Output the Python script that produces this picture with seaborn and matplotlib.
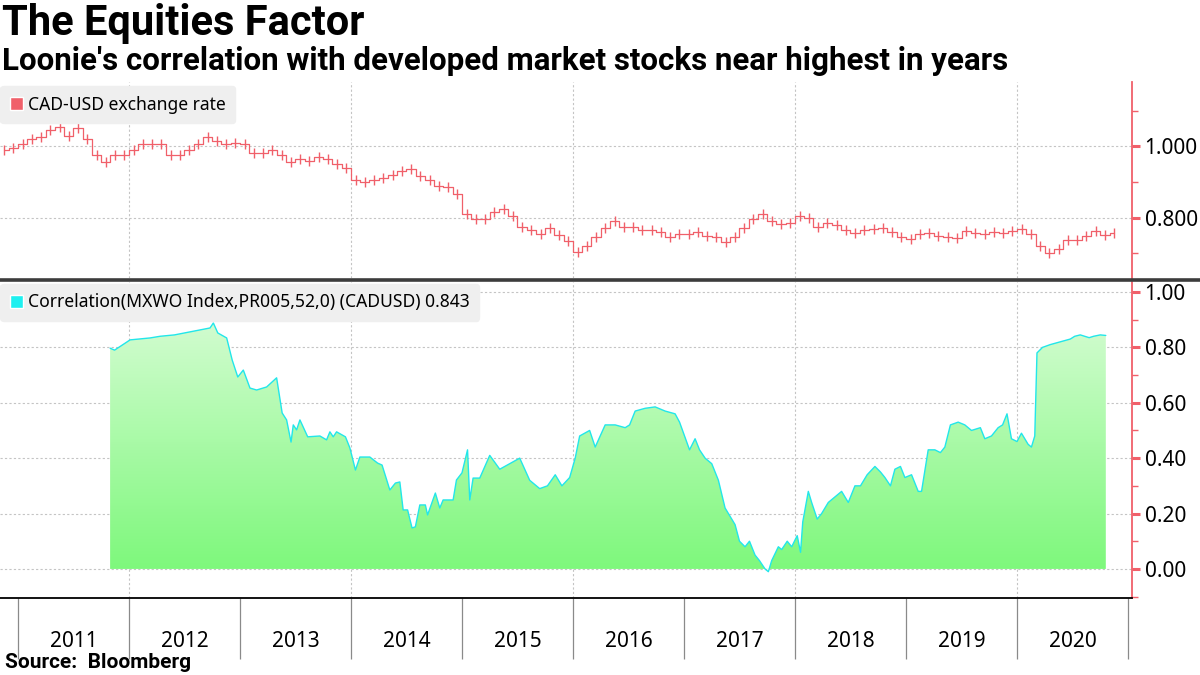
import numpy as np
import matplotlib.pyplot as plt
import matplotlib.ticker as mticker
from matplotlib.lines import Line2D
from matplotlib.patches import Patch
from matplotlib.colors import LinearSegmentedColormap
import seaborn as sns

# CAD-USD monthly closes, Nov 2010 .. Nov 2020
cad_start = 2010.875
cad_rate = [
    0.990, 0.995,
    1.005, 1.020, 1.025, 1.045, 1.055, 1.030, 1.050, 1.020, 0.975, 0.955, 0.975, 0.975,
    0.990, 1.005, 1.005, 1.005, 0.975, 0.975, 0.990, 1.005, 1.025, 1.015, 1.005, 1.010,
    1.005, 0.980, 0.980, 0.990, 0.975, 0.955, 0.965, 0.960, 0.970, 0.965, 0.950, 0.940,
    0.905, 0.900, 0.905, 0.910, 0.920, 0.930, 0.935, 0.918, 0.905, 0.890, 0.885, 0.865,
    0.810, 0.795, 0.795, 0.815, 0.825, 0.805, 0.775, 0.765, 0.755, 0.770, 0.752, 0.735,
    0.705, 0.720, 0.745, 0.770, 0.790, 0.775, 0.775, 0.765, 0.765, 0.760, 0.745, 0.755,
    0.755, 0.760, 0.750, 0.745, 0.732, 0.745, 0.770, 0.795, 0.810, 0.790, 0.783, 0.785,
    0.805, 0.800, 0.775, 0.785, 0.780, 0.765, 0.758, 0.765, 0.768, 0.772, 0.760, 0.745,
    0.740, 0.755, 0.757, 0.750, 0.745, 0.742, 0.762, 0.757, 0.755, 0.760, 0.757, 0.762,
    0.768, 0.755, 0.720, 0.700, 0.712, 0.738, 0.738, 0.748, 0.762, 0.752, 0.758,
]
cad_time = cad_start + np.arange(len(cad_rate)) / 12

# 52-week correlation of MXWO with CADUSD (decimal years)
corr_time = [
    2011.83, 2011.87, 2012.01, 2012.19, 2012.28, 2012.41, 2012.50, 2012.64, 2012.73, 2012.76,
    2012.80, 2012.88, 2012.93, 2012.98, 2013.03, 2013.09, 2013.15, 2013.24, 2013.33, 2013.38,
    2013.42, 2013.46, 2013.48, 2013.51, 2013.54, 2013.61, 2013.72, 2013.78, 2013.81, 2013.84,
    2013.87, 2013.95, 2013.99, 2014.04, 2014.08, 2014.17, 2014.24, 2014.28, 2014.35, 2014.40,
    2014.44, 2014.47, 2014.51, 2014.55, 2014.58, 2014.62, 2014.67, 2014.69, 2014.76, 2014.80,
    2014.83, 2014.92, 2014.95, 2015.00, 2015.05, 2015.07, 2015.10, 2015.16, 2015.25, 2015.34,
    2015.43, 2015.52, 2015.61, 2015.70, 2015.77, 2015.84, 2015.90, 2015.97, 2016.02, 2016.06,
    2016.15, 2016.20, 2016.29, 2016.38, 2016.47, 2016.51, 2016.56, 2016.65, 2016.74, 2016.83,
    2016.92, 2016.96, 2017.05, 2017.10, 2017.14, 2017.19, 2017.25, 2017.31, 2017.37, 2017.46,
    2017.50, 2017.55, 2017.59, 2017.64, 2017.68, 2017.73, 2017.76, 2017.79, 2017.85, 2017.88,
    2017.93, 2017.97, 2018.02, 2018.05, 2018.07, 2018.12, 2018.15, 2018.20, 2018.24, 2018.30,
    2018.36, 2018.42, 2018.48, 2018.54, 2018.59, 2018.65, 2018.72, 2018.77, 2018.81, 2018.86,
    2018.90, 2018.95, 2018.99, 2019.05, 2019.11, 2019.14, 2019.20, 2019.26, 2019.31, 2019.35,
    2019.40, 2019.47, 2019.53, 2019.59, 2019.67, 2019.71, 2019.77, 2019.83, 2019.87, 2019.91,
    2019.95, 2020.00, 2020.04, 2020.10, 2020.13, 2020.16, 2020.18, 2020.23, 2020.30, 2020.39,
    2020.48, 2020.52, 2020.57, 2020.61, 2020.65, 2020.69, 2020.75, 2020.80,
]
corr_value = [
    0.797, 0.790, 0.827, 0.834, 0.840, 0.845, 0.852, 0.863, 0.870, 0.888,
    0.852, 0.834, 0.754, 0.693, 0.718, 0.653, 0.646, 0.657, 0.690, 0.563,
    0.538, 0.458, 0.520, 0.502, 0.538, 0.477, 0.480, 0.466, 0.495, 0.477,
    0.495, 0.477, 0.437, 0.357, 0.404, 0.404, 0.382, 0.375, 0.285, 0.310,
    0.314, 0.213, 0.213, 0.148, 0.152, 0.231, 0.231, 0.195, 0.274, 0.220,
    0.249, 0.249, 0.321, 0.347, 0.430, 0.249, 0.328, 0.328, 0.410, 0.360,
    0.380, 0.400, 0.320, 0.290, 0.300, 0.340, 0.300, 0.330, 0.400, 0.480,
    0.500, 0.440, 0.520, 0.520, 0.510, 0.520, 0.570, 0.580, 0.585, 0.570,
    0.560, 0.530, 0.430, 0.470, 0.430, 0.400, 0.380, 0.320, 0.220, 0.160,
    0.100, 0.080, 0.100, 0.050, 0.030, 0.000, -0.010, 0.030, 0.080, 0.070,
    0.100, 0.080, 0.120, 0.060, 0.170, 0.280, 0.240, 0.180, 0.200, 0.240,
    0.260, 0.280, 0.240, 0.300, 0.300, 0.340, 0.370, 0.350, 0.330, 0.300,
    0.360, 0.370, 0.330, 0.340, 0.280, 0.280, 0.430, 0.430, 0.420, 0.440,
    0.520, 0.530, 0.520, 0.500, 0.510, 0.470, 0.480, 0.510, 0.520, 0.560,
    0.470, 0.460, 0.490, 0.450, 0.440, 0.480, 0.780, 0.800, 0.810, 0.820,
    0.830, 0.840, 0.845, 0.840, 0.835, 0.840, 0.845, 0.843,
]

years = list(range(2011, 2021))
grid_years = [2012, 2014, 2016, 2018, 2020]

RED = "#f0606a"
CYAN = "#22e6ea"
GRID = "#c4c4c4"
BOLD_FONT = ["Roboto", "DejaVu Sans"]

sns.set_style("white")
plt.rcParams["font.family"] = ["Noto Sans", "DejaVu Sans"]
plt.rcParams["text.color"] = "black"

W, H = 1200, 675
fig = plt.figure(figsize=(12, 6.75), dpi=100)


def box(left, top, right, bottom):
    return [left / W, 1 - bottom / H, (right - left) / W, (bottom - top) / H]


ax_top = fig.add_axes(box(0, 82, 1132, 278))
ax_bot = fig.add_axes(box(0, 282, 1132, 598))
xmin, xmax = 2010.838, 2021.036

# top panel: exchange rate, step line with bar ticks
sns.lineplot(x=cad_time, y=cad_rate, ax=ax_top, color=RED, lw=0.9, drawstyle="steps-mid")
sns.scatterplot(x=cad_time, y=cad_rate, ax=ax_top, color=RED, marker="|", s=45,
                linewidth=1.0, zorder=3)
ax_top.set_ylim(0.631, 1.18)
ax_top.yaxis.set_major_locator(mticker.MultipleLocator(0.2))
ax_top.yaxis.set_minor_locator(mticker.MultipleLocator(0.1))
ax_top.yaxis.set_major_formatter(mticker.FormatStrFormatter("%.3f"))

# bottom panel: correlation with gradient fill
sns.lineplot(x=corr_time, y=corr_value, ax=ax_bot, color=CYAN, lw=1.0, zorder=4)
poly = ax_bot.fill_between(corr_time, corr_value, 0, facecolor="none", edgecolor="none")
green = LinearSegmentedColormap.from_list("grn", ["#7ef87c", "#d4fcd2"])
grad = np.linspace(0, 1, 256).reshape(-1, 1)
im = ax_bot.imshow(grad, extent=[xmin, xmax, 0, 0.92], origin="lower",
                   aspect="auto", cmap=green, zorder=2)
im.set_clip_path(poly.get_paths()[0], transform=ax_bot.transData)
ax_bot.set_ylim(-0.105, 1.036)
ax_bot.yaxis.set_major_locator(mticker.MultipleLocator(0.2))
ax_bot.yaxis.set_minor_locator(mticker.MultipleLocator(0.1))
ax_bot.yaxis.set_major_formatter(mticker.FormatStrFormatter("%.2f"))

for ax in (ax_top, ax_bot):
    ax.set_xlim(xmin, xmax)
    ax.set_xlabel("")
    ax.set_ylabel("")
    ax.yaxis.tick_right()
    for side in ("left", "top"):
        ax.spines[side].set_visible(False)
    ax.spines["right"].set_color(RED)
    ax.spines["right"].set_linewidth(1.3)
    ax.tick_params(axis="y", which="major", color=RED, labelcolor="black",
                   length=6, width=2.2, labelsize=15, pad=3)
    ax.tick_params(axis="y", which="minor", color=RED, length=4, width=1)
    ax.grid(axis="y", which="major", ls=(0, (2, 2)), color=GRID, lw=0.8)
    for gy in grid_years:
        ax.axvline(gy, ls=(0, (2, 2)), color=GRID, lw=0.8, zorder=1)

ax_top.spines["bottom"].set_visible(False)
ax_top.tick_params(axis="x", which="both", bottom=False, labelbottom=False)

ax_bot.spines["bottom"].set_color("black")
ax_bot.spines["bottom"].set_linewidth(1.3)
ax_bot.set_xticks(list(range(2011, 2022)))
ax_bot.set_xticks([y + 0.5 for y in years], minor=True)
ax_bot.set_xticklabels([], minor=False)
ax_bot.set_xticklabels([str(y) for y in years], minor=True)
ax_bot.tick_params(axis="x", which="major", bottom=True, length=44, width=0.9,
                   color="#8a8a8a", direction="out")
ax_bot.tick_params(axis="x", which="minor", bottom=True, length=0, pad=24,
                   labelsize=15, labelcolor="black")

# legends
leg_kw = dict(loc="upper left", frameon=True, facecolor="#efefef", edgecolor="#efefef",
              framealpha=1, fontsize=12.6, handlelength=0.75, handleheight=0.75,
              handletextpad=0.3, borderpad=0.55, borderaxespad=0, labelcolor="black")
ax_top.legend(handles=[Patch(facecolor=RED, label="CAD-USD exchange rate")],
              bbox_to_anchor=(0.0, 0.98), **leg_kw)
ax_bot.legend(handles=[Patch(facecolor="#1ef0f0",
                             label="Correlation(MXWO Index,PR005,52,0) (CADUSD) 0.843")],
              bbox_to_anchor=(0.0, 0.995), **leg_kw)

# divider between panels
fig.add_artist(Line2D([0, 1], [1 - 280 / H] * 2, transform=fig.transFigure,
                      color="#3c3c3c", lw=2.6))

fig.text(2 / W, 1 - 24 / H, "The Equities Factor", fontsize=30, fontweight="bold",
         family=BOLD_FONT, color="black", va="center", ha="left")
fig.text(2 / W, 1 - 61 / H,
         "Loonie's correlation with developed market stocks near highest in years",
         fontsize=22.5, fontweight="bold", family=BOLD_FONT, color="black",
         va="center", ha="left")
fig.text(5 / W, 1 - 663 / H, "Source:  Bloomberg", fontsize=15, fontweight="bold",
         family=BOLD_FONT, color="black", va="center", ha="left")

fig.savefig("out.png", dpi=100, facecolor="white")
